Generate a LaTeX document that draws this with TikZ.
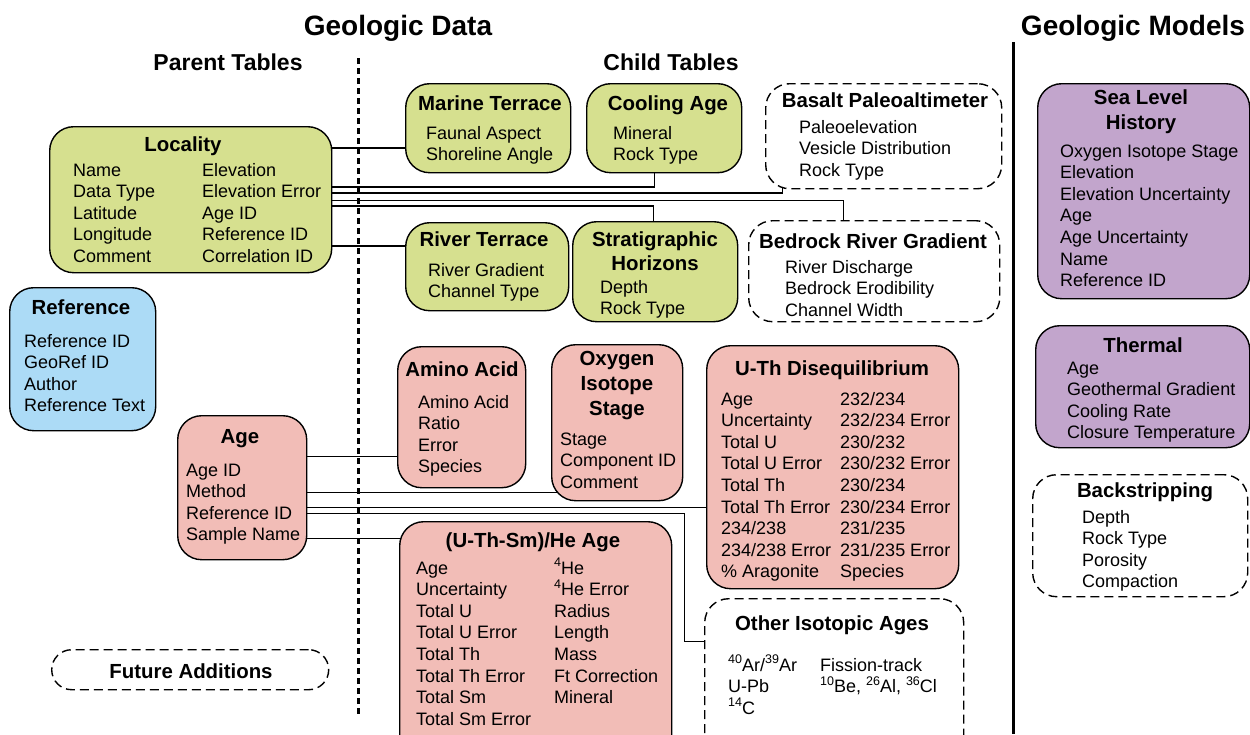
\documentclass[tikz,border=0pt]{standalone}
\usepackage{fontspec}
\setmainfont{Liberation Sans}
\usetikzlibrary{backgrounds}
\definecolor{geoverde}{RGB}{214,224,143}
\definecolor{agerosa}{RGB}{242,189,183}
\definecolor{refazul}{RGB}{172,219,246}
\definecolor{modroxo}{RGB}{194,165,204}
\newcommand\isot[1]{\raisebox{0.42em}{\fontsize{12.5}{12}\selectfont #1}}
\begin{document}
\begin{tikzpicture}[
  x=1pt, y=-1pt,
  tbox/.style={draw, line width=1.4pt, rounded corners=24pt, anchor=north west, inner sep=0pt},
  tgeo/.style={tbox, fill=geoverde},
  tage/.style={tbox, fill=agerosa},
  tref/.style={tbox, fill=refazul},
  tmod/.style={tbox, fill=modroxo},
  tnew/.style={tbox, fill=white, dash pattern=on 9pt off 5pt},
  hdr/.style={font=\fontsize{28}{32}\selectfont\bfseries, anchor=base, inner sep=0pt},
  subhdr/.style={font=\fontsize{23}{26}\selectfont\bfseries, anchor=base, inner sep=0pt},
  ttl/.style={font=\fontsize{20.4}{24}\selectfont\bfseries, anchor=base, inner sep=0pt},
  itm/.style={font=\fontsize{18}{22}\selectfont, anchor=base west, inner sep=0pt},
  lnk/.style={line width=1.3pt}
]
\def\dy{21.6}
\useasboundingbox (0,0) rectangle (1250,734);
% cabeçalhos e divisórias
\node[hdr] (h-data) at (398,35) {Geologic Data};
\node[hdr] (h-mod) at (1133,35) {Geologic Models};
\node[subhdr] (h-par) at (228,70) {Parent Tables};
\node[subhdr] (h-chi) at (671,70) {Child Tables};
\draw[line width=3pt, dash pattern=on 6pt off 4pt] (358,58) -- (358,716);
\draw[line width=3pt] (1013,42) -- (1013,734);
% tabelas pai
\node[tgeo, minimum width=282pt, minimum height=146pt] (loc) at (49,126) {};
\node[tref, minimum width=146pt, minimum height=143pt] (ref) at (9,287) {};
\node[tage, minimum width=129pt, minimum height=144pt] (age) at (177,415) {};
\node[tnew, minimum width=277pt, minimum height=40pt, rounded corners=20pt] (fut) at (51,649) {};
% filhas de locality
\node[tgeo, minimum width=165pt, minimum height=89pt] (mar) at (405,83) {};
\node[tgeo, minimum width=155pt, minimum height=89pt] (cool) at (586,83) {};
\node[tnew, minimum width=236pt, minimum height=105pt] (bas) at (765,83) {};
\node[tgeo, minimum width=163pt, minimum height=88pt] (riv) at (405,222) {};
\node[tgeo, minimum width=165pt, minimum height=100pt] (strat) at (572,221) {};
\node[tnew, minimum width=251pt, minimum height=101pt] (bed) at (748,220) {};
% filhas de age
\node[tage, minimum width=128pt, minimum height=141pt] (amino) at (397,346) {};
\node[tage, minimum width=131pt, minimum height=156pt] (oxy) at (551,344) {};
\node[tage, minimum width=252pt, minimum height=243pt] (uth) at (706,345) {};
\node[tage, minimum width=272pt, minimum height=240pt] (he) at (399,521) {};
\node[tnew, minimum width=259pt, minimum height=160pt] (oth) at (704,598) {};
% modelos
\node[tmod, minimum width=212pt, minimum height=215pt] (sea) at (1037,83) {};
\node[tmod, minimum width=214pt, minimum height=122pt] (therm) at (1035,325) {};
\node[tnew, minimum width=215pt, minimum height=122pt] (back) at (1032,474) {};
% locality
\node[ttl] (loc-t) at (183,151) {Locality};
\foreach \v [count=\i from 0] in {Name, Data Type, Latitude, Longitude, Comment}
  \node[itm] (loc-a\i) at (73,{176+\i*\dy}) {\v};
\foreach \v [count=\i from 0] in {Elevation, Elevation Error, Age ID, Reference ID, Correlation ID}
  \node[itm] (loc-b\i) at (202,{176+\i*\dy}) {\v};
% reference
\node[ttl] (ref-t) at (81,314) {Reference};
\foreach \v [count=\i from 0] in {Reference ID, GeoRef ID, Author, Reference Text}
  \node[itm] (ref-a\i) at (24,{347+\i*\dy}) {\v};
% age
\node[ttl] (age-t) at (240,443) {Age};
\foreach \v [count=\i from 0] in {Age ID, Method, Reference ID, Sample Name}
  \node[itm] (age-a\i) at (186,{476+\i*\dy}) {\v};
\node[ttl] (fut-t) at (191,678) {Future Additions};
% marine terrace / cooling age / basalt
\node[ttl] (mar-t) at (490,110) {Marine Terrace};
\foreach \v [count=\i from 0] in {Faunal Aspect, Shoreline Angle}
  \node[itm] (mar-a\i) at (426,{139+\i*\dy}) {\v};
\node[ttl] (cool-t) at (668,110) {Cooling Age};
\foreach \v [count=\i from 0] in {Mineral, Rock Type}
  \node[itm] (cool-a\i) at (613,{139+\i*\dy}) {\v};
\node[ttl] (bas-t) at (885,107) {Basalt Paleoaltimeter};
\foreach \v [count=\i from 0] in {Paleoelevation, Vesicle Distribution, Rock Type}
  \node[itm] (bas-a\i) at (799,{133+\i*\dy}) {\v};
% river terrace / stratigraphic / bedrock
\node[ttl] (riv-t) at (484,246) {River Terrace};
\foreach \v [count=\i from 0] in {River Gradient, Channel Type}
  \node[itm] (riv-a\i) at (428,{276+\i*\dy}) {\v};
\foreach \v [count=\i from 0] in {Stratigraphic, Horizons}
  \node[ttl] (strat-t\i) at (655,{246+\i*24}) {\v};
\foreach \v [count=\i from 0] in {Depth, Rock Type}
  \node[itm] (strat-a\i) at (600,{293+\i*\dy}) {\v};
\node[ttl] (bed-t) at (873,248) {Bedrock River Gradient};
\foreach \v [count=\i from 0] in {River Discharge, Bedrock Erodibility, Channel Width}
  \node[itm] (bed-a\i) at (785,{273+\i*\dy}) {\v};
% amino acid / oxygen isotope stage
\node[ttl] (amino-t) at (462,376) {Amino Acid};
\foreach \v [count=\i from 0] in {Amino Acid, Ratio, Error, Species}
  \node[itm] (amino-a\i) at (418,{408+\i*\dy}) {\v};
\foreach \v [count=\i from 0] in {Oxygen, Isotope, Stage}
  \node[ttl] (oxy-t\i) at (617,{365+\i*25}) {\v};
\foreach \v [count=\i from 0] in {Stage, Component ID, Comment}
  \node[itm] (oxy-a\i) at (560,{445+\i*\dy}) {\v};
% u-th disequilibrium
\node[ttl] (uth-t) at (832,375) {U-Th Disequilibrium};
\foreach \v [count=\i from 0] in {Age, Uncertainty, Total U, Total U Error, Total Th, Total Th Error, 234/238, 234/238 Error, \% Aragonite}
  \node[itm] (uth-a\i) at (721,{405+\i*\dy}) {\v};
\foreach \v [count=\i from 0] in {232/234, 232/234 Error, 230/232, 230/232 Error, 230/234, 230/234 Error, 231/235, 231/235 Error, Species}
  \node[itm] (uth-b\i) at (840,{405+\i*\dy}) {\v};
% (u-th-sm)/he
\node[ttl] (he-t) at (533,547) {(U-Th-Sm)/He Age};
\foreach \v [count=\i from 0] in {Age, Uncertainty, Total U, Total U Error, Total Th, Total Th Error, Total Sm, Total Sm Error}
  \node[itm] (he-a\i) at (416,{574+\i*\dy}) {\v};
\foreach \v [count=\i from 0] in {\isot{4}He, \isot{4}He Error, Radius, Length, Mass, Ft Correction, Mineral}
  \node[itm] (he-b\i) at (554,{574+\i*\dy}) {\v};
% other isotopic ages
\node[ttl] (oth-t) at (832,630) {Other Isotopic Ages};
\foreach \v [count=\i from 0] in {\isot{40}Ar/\isot{39}Ar, U-Pb, \isot{14}C}
  \node[itm] (oth-a\i) at (728,{671+\i*\dy}) {\v};
\foreach \v [count=\i from 0] in {Fission-track, {\isot{10}Be, \isot{26}Al, \isot{36}Cl}}
  \node[itm] (oth-b\i) at (820,{671+\i*\dy}) {\v};
% modelos: textos
\foreach \v [count=\i from 0] in {Sea Level, History}
  \node[ttl] (sea-t\i) at (1141,{104+\i*25}) {\v};
\foreach \v [count=\i from 0] in {Oxygen Isotope Stage, Elevation, Elevation Uncertainty, Age, Age Uncertainty, Name, Reference ID}
  \node[itm] (sea-a\i) at (1060,{157+\i*\dy}) {\v};
\node[ttl] (therm-t) at (1143,352) {Thermal};
\foreach \v [count=\i from 0] in {Age, Geothermal Gradient, Cooling Rate, Closure Temperature}
  \node[itm] (therm-a\i) at (1067,{374+\i*\dy}) {\v};
\node[ttl] (back-t) at (1145,497) {Backstripping};
\foreach \v [count=\i from 0] in {Depth, Rock Type, Porosity, Compaction}
  \node[itm] (back-a\i) at (1082,{523+\i*\dy}) {\v};
% ligações
\begin{pgfonlayer}{background}
\coordinate (l1) at ([yshift=-22pt]loc.north east);
\coordinate (l2) at ([yshift=-61pt]loc.north east);
\coordinate (l3) at ([yshift=-67pt]loc.north east);
\coordinate (l4) at ([yshift=-74.5pt]loc.north east);
\coordinate (l5) at ([yshift=-80pt]loc.north east);
\coordinate (l6) at ([yshift=-120pt]loc.north east);
\draw[lnk] (l1) -- (l1 -| mar.center);
\draw[lnk] (l2) -| ([xshift=-10pt]cool.center);
\draw[lnk] (l3) -| ([xshift=-101pt]bas.center);
\draw[lnk] (l4) -| ([xshift=-30.5pt]bed.center);
\draw[lnk] (l5) -| ([xshift=-1.5pt]strat.center);
\draw[lnk] (l6) -- (l6 -| riv.center);
\coordinate (a1) at ([yshift=-41.7pt]age.north east);
\coordinate (a2) at ([yshift=-77.3pt]age.north east);
\coordinate (a3) at ([yshift=-92.7pt]age.north east);
\coordinate (a4) at ([yshift=-98.3pt]age.north east);
\coordinate (a5) at ([yshift=-123.3pt]age.north east);
\coordinate (o1) at ([xshift=-19.5pt, yshift=-43.5pt]oth.north west);
\draw[lnk] (a1) -- (a1 -| amino.center);
\draw[lnk] (a2) -- (a2 -| oxy.center);
\draw[lnk] (a3) -- (a3 -| uth.center);
\draw[lnk] (a4) -| (o1) -- (o1 -| oth.center);
\draw[lnk] (a5) -- (a5 -| he.center);
\end{pgfonlayer}
\end{tikzpicture}
\end{document}
